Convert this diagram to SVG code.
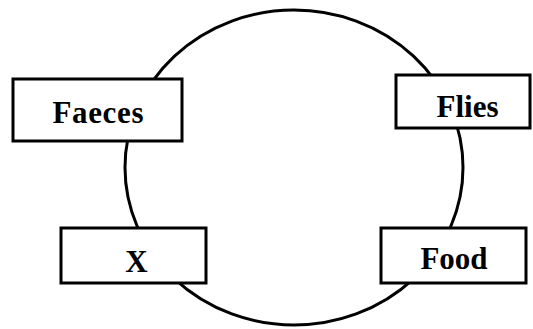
<svg xmlns="http://www.w3.org/2000/svg" width="533" height="329" viewBox="0 0 533 329">
<style>
.box{fill:#fff;stroke:#000;stroke-width:3}
.lbl{font-family:"Liberation Serif","Times New Roman",serif;font-weight:bold;font-size:31px;fill:#000;text-anchor:middle}
.cyc{fill:none;stroke:#000;stroke-width:3}
</style>
<rect width="533" height="329" fill="#fff"/>
<g id="connectors">
<ellipse class="cyc" cx="294" cy="167.5" rx="169" ry="157.5"/>
</g>
<g id="faeces">
<rect class="box" x="13" y="79" width="169" height="62"/>
<text class="lbl" x="98" y="123" textLength="91" lengthAdjust="spacing">Faeces</text>
</g>
<g id="flies">
<rect class="box" x="396" y="75" width="134" height="53"/>
<text class="lbl" x="467.5" y="117">Flies</text>
</g>
<g id="x">
<rect class="box" x="61" y="228" width="145" height="55"/>
<text class="lbl" x="136.5" y="272" font-size="32">X</text>
</g>
<g id="food">
<rect class="box" x="381" y="228" width="145" height="55"/>
<text class="lbl" x="454" y="269">Food</text>
</g>
</svg>
